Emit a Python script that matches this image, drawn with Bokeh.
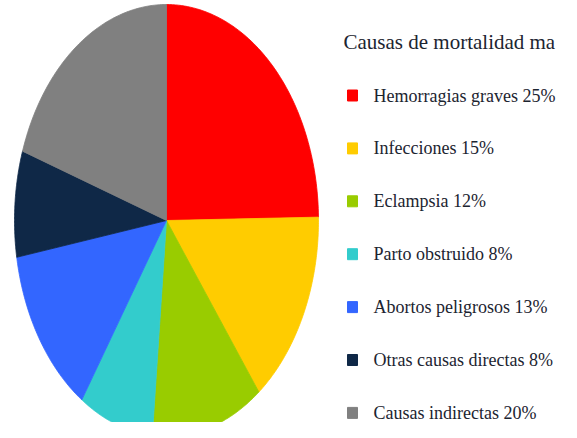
import numpy as np
from bokeh.plotting import figure
from bokeh.models import Range1d, ColumnDataSource
from bokeh.core.properties import value
from bokeh.embed import file_html
from bokeh.resources import INLINE

# ---- data ----
title = "Causas de mortalidad ma"
causes = ["Hemorragias graves", "Infecciones", "Eclampsia", "Parto obstruido",
          "Abortos peligrosos", "Otras causas directas", "Causas indirectas"]
percents = [25, 15, 12, 8, 13, 8, 20]
colors = ["#ff0000", "#ffcc00", "#99cc00", "#33cccc", "#3366ff", "#0f2847", "#808080"]

# ---- layout (picture pixel coordinates) ----
W, H = 561, 422
p = figure(width=W, height=H, output_backend="svg", toolbar_location=None,
           x_range=Range1d(0, W), y_range=Range1d(H, 0),
           min_border=0)
p.axis.visible = False
p.grid.visible = False
p.outline_line_color = None
p.background_fill_color = "white"

cx, cy, rx, ry = 166, 220, 152, 216
total = float(sum(percents))
xs, ys = [], []
start = 0.0
for v in percents:
    a0 = start / total * 2 * np.pi
    a1 = (start + v) / total * 2 * np.pi
    t = np.linspace(a0, a1, 80)
    px = [cx] + list(cx + rx * np.sin(t)) + [cx]
    py = [cy] + list(cy - ry * np.cos(t)) + [cy]
    xs.append(px)
    ys.append(py)
    start += v
p.patches(xs=xs, ys=ys, fill_color=colors, line_color=colors, line_width=0.8)

FONT = value("'Liberation Serif', serif")

# title
p.text(x=[343], y=[41], text=[title], text_font=FONT,
       text_font_size="21px", text_color="#1c2430", text_baseline="middle",
       text_align="left")

# legend
n = len(causes)
ly = [95 + i * 52.9 for i in range(n)]
labels = [f"{c} {v}%" for c, v in zip(causes, percents)]
src = ColumnDataSource(dict(x=[352] * n, tx=[373] * n, y=ly, c=colors, t=labels))
p.rect(x="x", y="y", width=10, height=11, fill_color="c", line_color="c", source=src)
p.text(x="tx", y="y", text="t", source=src, text_font=FONT,
       text_font_size="18px", text_color="#1c2430", text_baseline="middle",
       text_align="left")

open("out.html", "w").write(file_html(p, INLINE))
